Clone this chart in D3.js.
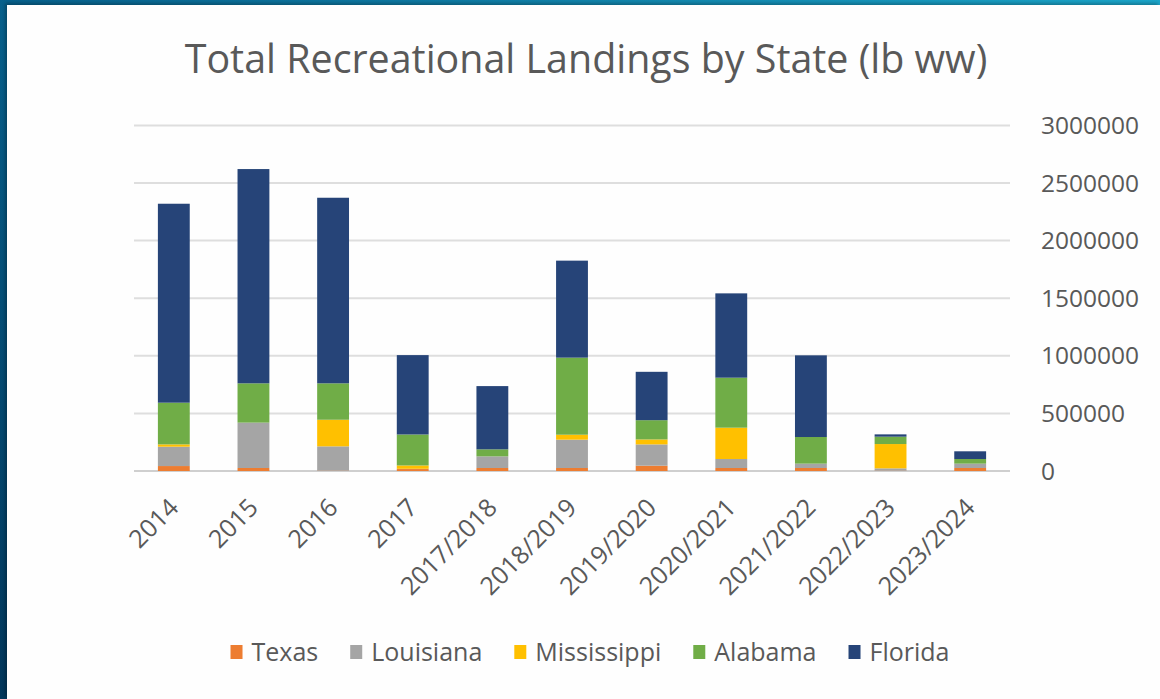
<!DOCTYPE html>
<html>
<head>
<meta charset="utf-8">
<script src="https://cdn.jsdelivr.net/npm/d3@7"></script>
<style>
  html, body { margin: 0; padding: 0; }
  body {
    width: 1160px; height: 699px; overflow: hidden;
    background: linear-gradient(35deg, #02365a 0%, #075f8a 45%, #1ba5c9 100%);
  }
  #panel {
    position: absolute; left: 7px; top: 5px; width: 1153px; height: 694px;
    background: #fefefe;
    box-shadow: -2px -2px 3px rgba(0,0,0,0.25);
  }
  svg { position: absolute; left: 0; top: 0; }
  text { font-family: "Open Sans", "Noto Sans", sans-serif; fill: #595959; }
</style>
</head>
<body>
<div id="panel"></div>
<script>
// seasons on the x axis
const seasons = ["2014", "2015", "2016", "2017", "2017/2018", "2018/2019",
  "2019/2020", "2020/2021", "2021/2022", "2022/2023", "2023/2024"];

// landings (lb ww) per state
const texas       = [43000, 26000, 3000, 17000, 26000, 26000, 46000, 26000, 26000, 3000, 26000];
const louisiana   = [168000, 394000, 211000, 2000, 101000, 246000, 185000, 78000, 38000, 20000, 38000];
const mississippi = [20000, 0, 231000, 29000, 0, 43000, 43000, 272000, 0, 211000, 0];
const alabama     = [362000, 341000, 316000, 269000, 61000, 669000, 167000, 434000, 231000, 64000, 40000];
const florida     = [1727000, 1860000, 1611000, 689000, 549000, 842000, 420000, 732000, 709000, 20000, 67000];

const states = ["Texas", "Louisiana", "Mississippi", "Alabama", "Florida"];
const colors = ["#ED7D31", "#A5A5A5", "#FFC000", "#70AD47", "#264478"];
const yTicks = [0, 500000, 1000000, 1500000, 2000000, 2500000, 3000000];

const width = 1160, height = 699;

const rows = seasons.map((s, i) => ({
  season: s,
  Texas: texas[i], Louisiana: louisiana[i], Mississippi: mississippi[i],
  Alabama: alabama[i], Florida: florida[i]
}));

const svg = d3.select('body').append('svg').attr('width', width).attr('height', height);

const x = d3.scaleBand().domain(seasons).range([134, 1010]).paddingInner(0.6).paddingOuter(0.3);
const y = d3.scaleLinear().domain([0, 3000000]).range([471, 125.4]);
const color = d3.scaleOrdinal().domain(states).range(colors);

// title, fitted to the width it has in the picture
const title = svg.append('text')
  .attr('x', 586).attr('y', 73)
  .attr('text-anchor', 'middle')
  .style('font-size', '36px')
  .text('Total Recreational Landings by State (lb ww)');
const tw = title.node().getComputedTextLength();
title.style('font-size', (36 * 802 / tw).toFixed(1) + 'px');

// gridlines
svg.append('g').selectAll('line').data(yTicks).enter().append('line')
  .attr('x1', 134).attr('x2', 1010)
  .attr('y1', d => y(d)).attr('y2', d => y(d))
  .attr('stroke', d => d === 0 ? '#cfcfcf' : '#dedede')
  .attr('stroke-width', 2);

// right-hand y labels
svg.append('g').selectAll('text').data(yTicks).enter().append('text')
  .attr('x', 1041).attr('y', d => y(d)).attr('dy', '0.35em')
  .style('font-size', '24.5px')
  .text(d => d3.format('d')(d));

// stacked bars
const stacked = d3.stack().keys(states)(rows);
svg.append('g').selectAll('g').data(stacked).enter().append('g')
  .attr('fill', d => color(d.key))
  .selectAll('rect').data(d => d).enter().append('rect')
  .attr('x', d => x(d.data.season))
  .attr('width', x.bandwidth())
  .attr('y', d => y(d[1]))
  .attr('height', d => y(d[0]) - y(d[1]));

// rotated x labels
svg.append('g').selectAll('text').data(seasons).enter().append('text')
  .attr('transform', d => `translate(${x(d) + x.bandwidth() / 2},503) rotate(-45)`)
  .attr('text-anchor', 'end').attr('dy', '0.35em')
  .style('font-size', '25px')
  .text(d => d);

// legend
const legend = svg.append('g').attr('transform', 'translate(0,652)');
const items = legend.selectAll('g').data(states).enter().append('g');
items.append('rect').attr('x', 0).attr('y', -7).attr('width', 12).attr('height', 14)
  .attr('fill', d => color(d));
items.append('text').attr('x', 21).attr('dy', '0.35em').style('font-size', '25px').text(d => d);
let pos = 0;
const offs = [];
items.each(function(d) {
  offs.push(pos);
  pos += 21 + d3.select(this).select('text').node().getComputedTextLength() + 32;
});
const total = pos - 32;
const start = 590 - total / 2;
items.attr('transform', (d, i) => `translate(${start + offs[i]},0)`);
</script>
</body>
</html>
